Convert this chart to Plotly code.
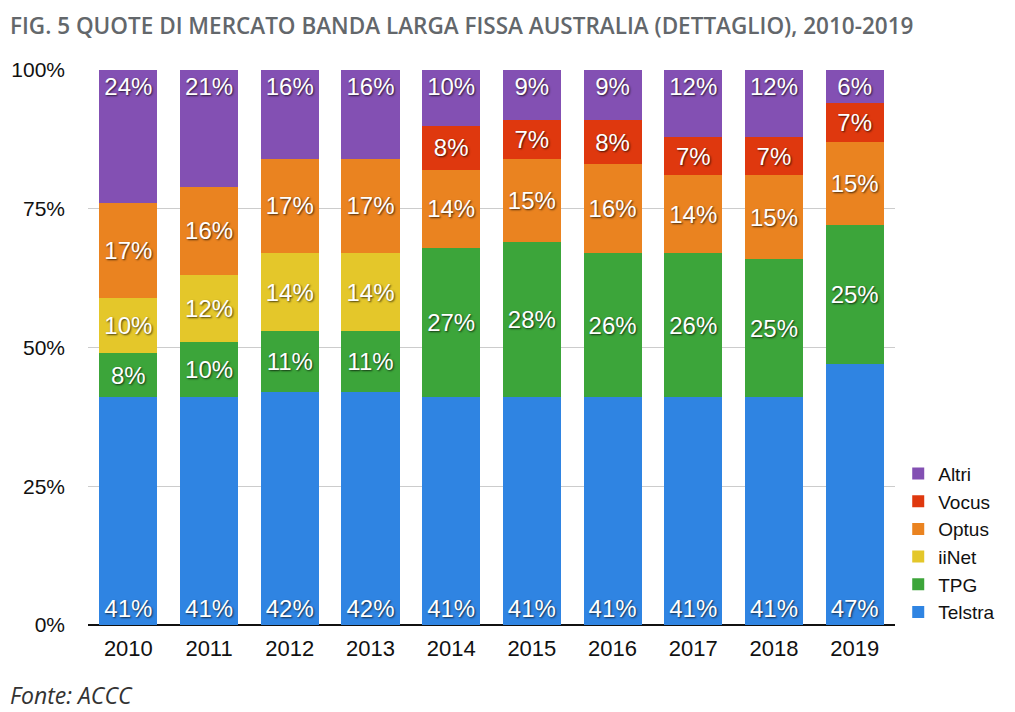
import plotly.graph_objects as go

# Quote di mercato banda larga fissa Australia, 2010-2019 (valori in %)
anni = ['2010', '2011', '2012', '2013', '2014', '2015', '2016', '2017', '2018', '2019']
telstra = [41, 41, 42, 42, 41, 41, 41, 41, 41, 47]
tpg = [8, 10, 11, 11, 27, 28, 26, 26, 25, 25]
iinet = [10, 12, 14, 14, None, None, None, None, None, None]
optus = [17, 16, 17, 17, 14, 15, 16, 14, 15, 15]
vocus = [None, None, None, None, 8, 7, 8, 7, 7, 7]
altri = [24, 21, 16, 16, 10, 9, 9, 12, 12, 6]

y_ticks = [0, 25, 50, 75, 100]
y_tick_labels = ['0%', '25%', '50%', '75%', '100%']

serie = [
    ('Telstra', telstra, '#2f84e2', 'start'),
    ('TPG', tpg, '#3ca53a', 'middle'),
    ('iiNet', iinet, '#e4c72a', 'middle'),
    ('Optus', optus, '#ea8320', 'middle'),
    ('Vocus', vocus, '#df380e', 'middle'),
    ('Altri', altri, '#8350b3', 'end'),
]

fig = go.Figure()
for nome, valori, colore, anchor in serie:
    etichette = [f'{v}%' if v else '' for v in valori]
    fig.add_trace(go.Bar(
        x=anni, y=valori, name=nome,
        marker=dict(color=colore, line=dict(width=0)),
        text=etichette, textposition='inside', insidetextanchor=anchor,
        textangle=0,
        textfont=dict(family='Liberation Sans, Arial, sans-serif', size=24, color='white',
                      shadow='1px 1px 2px rgba(0,0,0,0.7)'),
        constraintext='none',
        hovertemplate='%{x} ' + nome + ': %{y}%<extra></extra>',
    ))

# la pagina ha un margine di 8px: le posizioni sono compensate
fig.update_layout(
    barmode='stack',
    bargap=0.28,
    width=1015, height=712,
    margin=dict(l=80, r=128, t=62, b=95, autoexpand=False),
    paper_bgcolor='white', plot_bgcolor='white',
    font=dict(family='Liberation Sans, Arial, sans-serif', color='#111111'),
    legend=dict(
        traceorder='reversed',
        x=1.004, xanchor='left', y=-0.012, yanchor='bottom',
        font=dict(size=19, color='#111111'),
        itemwidth=30, tracegroupgap=0,
        bgcolor='rgba(0,0,0,0)',
    ),
    xaxis=dict(
        tickfont=dict(size=22, color='#111111'),
        showgrid=False, ticks='', showline=False, automargin=False,
        ticklabelstandoff=8,
    ),
    yaxis=dict(
        range=[0, 100], tickvals=y_ticks, ticktext=y_tick_labels,
        tickfont=dict(size=21, color='#111111'),
        showgrid=True, gridcolor='#cccccc', gridwidth=1,
        zeroline=True, zerolinecolor='#111111', zerolinewidth=2,
        ticks='', ticklabelstandoff=22, fixedrange=True, automargin=False,
    ),
    annotations=[
        dict(text='FIG. 5 QUOTE DI MERCATO BANDA LARGA FISSA AUSTRALIA (DETTAGLIO), 2010-2019',
             xref='paper', yref='paper', x=-80 / 807, y=1 + 62 / 555,
             xanchor='left', yanchor='top', showarrow=False,
             font=dict(family='Open Sans, Lato, sans-serif', size=22.5, weight=600, color='#63676b')),
        dict(text='<i>Fonte: ACCC</i>',
             xref='paper', yref='paper', x=-80 / 807, y=-70 / 555,
             xanchor='left', yanchor='middle', showarrow=False,
             font=dict(family='Open Sans, Lato, sans-serif', size=23, color='#333333')),
    ],
)

fig.write_html('out.html')
